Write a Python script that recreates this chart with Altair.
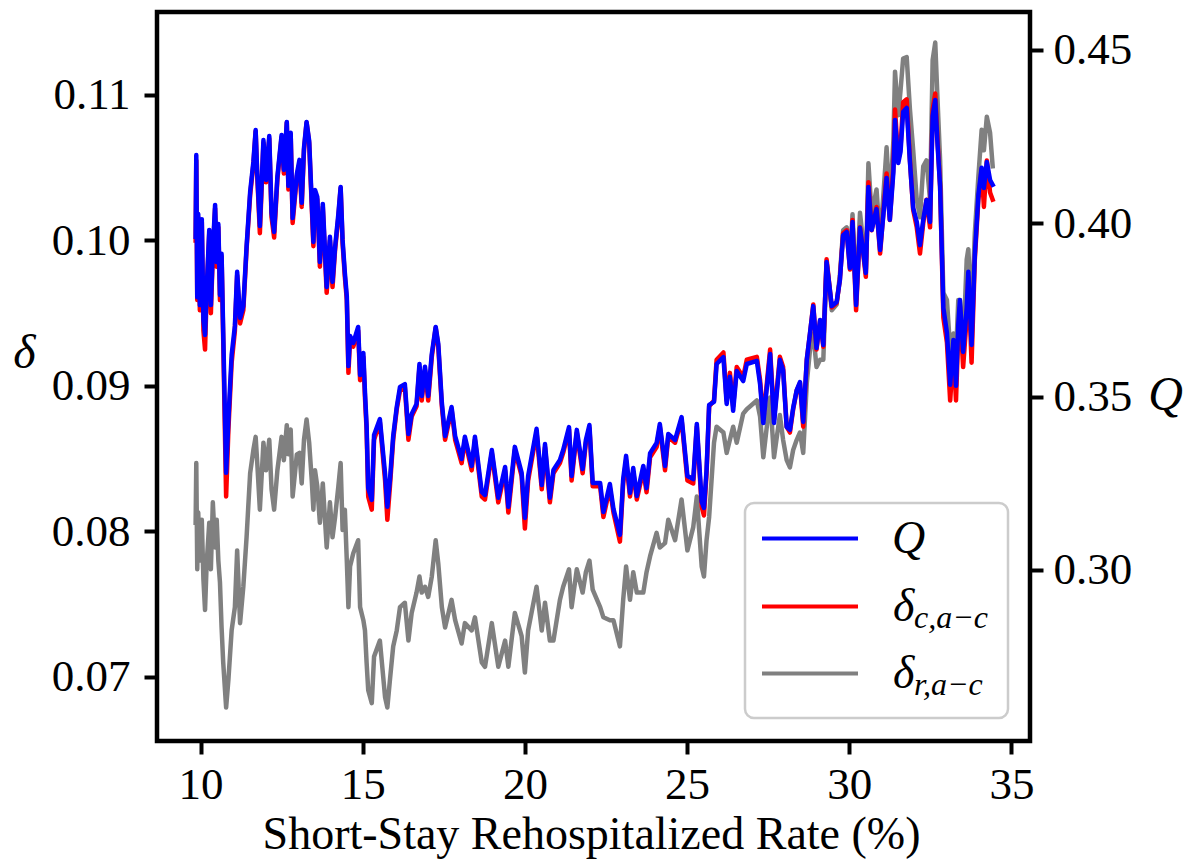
import altair as alt
import pandas as pd

# Short-stay rehospitalized rate (%) -- x positions
rate = [
    9.85, 9.87, 9.90, 9.93, 9.98, 10.04, 10.09, 10.14, 10.19, 10.27,
    10.32, 10.38, 10.45, 10.50, 10.55, 10.60, 10.65, 10.70, 10.79, 10.86,
    10.96, 11.06, 11.13, 11.22, 11.32, 11.42, 11.53, 11.63, 11.70, 11.75,
    11.83, 11.94, 12.02, 12.12, 12.19, 12.27, 12.37, 12.50, 12.57, 12.66,
    12.71, 12.78, 12.84, 12.97, 13.05, 13.12, 13.19, 13.27, 13.35, 13.43,
    13.48, 13.53, 13.60, 13.68, 13.77, 13.89, 13.99, 14.07, 14.15, 14.25,
    14.32, 14.38, 14.45, 14.51, 14.56, 14.61, 14.71, 14.86, 14.92, 15.02,
    15.07, 15.12, 15.17, 15.28, 15.35, 15.53, 15.69, 15.76, 15.84, 15.94,
    16.05, 16.15, 16.30, 16.41, 16.51, 16.66, 16.75, 16.82, 16.92, 17.02,
    17.13, 17.25, 17.33, 17.44, 17.54, 17.74, 17.85, 18.05, 18.15, 18.36,
    18.46, 18.67, 18.77, 18.98, 19.18, 19.39, 19.49, 19.69, 19.90, 20.00,
    20.10, 20.36, 20.52, 20.62, 20.77, 20.88, 21.08, 21.18, 21.36, 21.44,
    21.60, 21.78, 21.88, 21.99, 22.09, 22.32, 22.42, 22.62, 22.73, 22.93,
    23.03, 23.12, 23.24, 23.34, 23.45, 23.65, 23.75, 23.86, 24.06, 24.16,
    24.32, 24.42, 24.63, 24.83, 25.01, 25.19, 25.30, 25.45, 25.52, 25.60,
    25.68, 25.83, 25.91, 26.12, 26.22, 26.32, 26.42, 26.53, 26.73, 26.84,
    27.15, 27.25, 27.35, 27.56, 27.68, 27.86, 27.96, 28.07, 28.17, 28.27,
    28.38, 28.48, 28.58, 28.69, 28.79, 28.89, 28.99, 29.10, 29.20, 29.30,
    29.46, 29.61, 29.71, 29.81, 29.92, 30.02, 30.10, 30.21, 30.33, 30.43,
    30.51, 30.59, 30.69, 30.84, 30.95, 31.05, 31.15, 31.25, 31.36, 31.41,
    31.51, 31.58, 31.66, 31.77, 31.87, 31.97, 32.08, 32.18, 32.28, 32.38,
    32.49, 32.57, 32.65, 32.72, 32.80, 32.90, 33.01, 33.11, 33.21, 33.29,
    33.36, 33.41, 33.51, 33.62, 33.67, 33.77, 33.87, 33.98, 34.08, 34.15,
    34.24, 34.34, 34.42,
]

# delta_{c,a-c} (red, left axis)
delta_c = [
    0.1000, 0.1055, 0.0959, 0.1016, 0.0952, 0.1013, 0.0938, 0.0925, 0.0964, 0.1005,
    0.0950, 0.0991, 0.1022, 0.0982, 0.1009, 0.0959, 0.0989, 0.0932, 0.0824, 0.0870,
    0.0916, 0.0938, 0.0976, 0.0943, 0.0952, 0.0994, 0.1031, 0.1052, 0.1075, 0.1044,
    0.1005, 0.1067, 0.1040, 0.1070, 0.1016, 0.1002, 0.1042, 0.1071, 0.1046, 0.1081,
    0.1035, 0.1073, 0.1012, 0.1044, 0.1053, 0.1023, 0.1062, 0.1081, 0.1067, 0.1023,
    0.0996, 0.1033, 0.1028, 0.0982, 0.1023, 0.0964, 0.1000, 0.0968, 0.0994, 0.1016,
    0.1036, 0.0998, 0.0975, 0.0959, 0.0909, 0.0932, 0.0927, 0.0938, 0.0904, 0.0920,
    0.0892, 0.0870, 0.0824, 0.0815, 0.0863, 0.0875, 0.0835, 0.0808, 0.0831, 0.0863,
    0.0884, 0.0897, 0.0899, 0.0863, 0.0879, 0.0886, 0.0913, 0.0890, 0.0911, 0.0890,
    0.0920, 0.0940, 0.0927, 0.0886, 0.0863, 0.0884, 0.0863, 0.0847, 0.0863, 0.0842,
    0.0863, 0.0824, 0.0822, 0.0854, 0.0820, 0.0842, 0.0813, 0.0856, 0.0838, 0.0802,
    0.0835, 0.0868, 0.0829, 0.0858, 0.0820, 0.0840, 0.0847, 0.0854, 0.0870, 0.0835,
    0.0868, 0.0840, 0.0861, 0.0871, 0.0831, 0.0831, 0.0810, 0.0830, 0.0813, 0.0793,
    0.0833, 0.0849, 0.0824, 0.0841, 0.0822, 0.0842, 0.0827, 0.0851, 0.0858, 0.0872,
    0.0842, 0.0865, 0.0861, 0.0877, 0.0835, 0.0833, 0.0872, 0.0817, 0.0811, 0.0840,
    0.0886, 0.0890, 0.0918, 0.0923, 0.0890, 0.0909, 0.0886, 0.0913, 0.0906, 0.0918,
    0.0920, 0.0904, 0.0877, 0.0925, 0.0877, 0.0920, 0.0913, 0.0872, 0.0868, 0.0884,
    0.0897, 0.0902, 0.0872, 0.0918, 0.0936, 0.0956, 0.0925, 0.0945, 0.0927, 0.0987,
    0.0954, 0.0957, 0.0973, 0.1005, 0.1007, 0.0980, 0.1014, 0.0952, 0.1009, 0.0991,
    0.0975, 0.1040, 0.1007, 0.1023, 0.0991, 0.1019, 0.1046, 0.1014, 0.1051, 0.1090,
    0.1055, 0.1064, 0.1095, 0.1097, 0.1055, 0.1021, 0.1009, 0.0991, 0.1012, 0.1028,
    0.1009, 0.1090, 0.1101, 0.1069, 0.1037, 0.0947, 0.0930, 0.0890, 0.0925, 0.0890,
    0.0936, 0.0954, 0.0913, 0.0947, 0.0975, 0.0916, 0.0987, 0.1028, 0.1049, 0.1023,
    0.1055, 0.1033, 0.1028,
]

# delta_{r,a-c} (grey, left axis)
delta_r = [
    0.0806, 0.0847, 0.0774, 0.0813, 0.0780, 0.0808, 0.0767, 0.0746, 0.0778, 0.0806,
    0.0774, 0.0820, 0.0789, 0.0808, 0.0780, 0.0765, 0.0734, 0.0710, 0.0679, 0.0698,
    0.0732, 0.0748, 0.0787, 0.0737, 0.0762, 0.0796, 0.0840, 0.0856, 0.0865, 0.0847,
    0.0815, 0.0861, 0.0842, 0.0863, 0.0829, 0.0815, 0.0842, 0.0865, 0.0849, 0.0873,
    0.0853, 0.0870, 0.0824, 0.0853, 0.0854, 0.0833, 0.0863, 0.0877, 0.0861, 0.0835,
    0.0815, 0.0842, 0.0831, 0.0806, 0.0833, 0.0789, 0.0820, 0.0796, 0.0810, 0.0831,
    0.0847, 0.0801, 0.0815, 0.0780, 0.0748, 0.0776, 0.0785, 0.0794, 0.0748, 0.0739,
    0.0732, 0.0710, 0.0691, 0.0682, 0.0714, 0.0725, 0.0686, 0.0679, 0.0698, 0.0721,
    0.0732, 0.0748, 0.0751, 0.0725, 0.0744, 0.0758, 0.0769, 0.0758, 0.0762, 0.0755,
    0.0769, 0.0794, 0.0778, 0.0748, 0.0734, 0.0753, 0.0739, 0.0723, 0.0737, 0.0732,
    0.0741, 0.0710, 0.0707, 0.0737, 0.0707, 0.0725, 0.0707, 0.0744, 0.0728, 0.0703,
    0.0732, 0.0762, 0.0732, 0.0751, 0.0725, 0.0725, 0.0753, 0.0762, 0.0774, 0.0748,
    0.0774, 0.0758, 0.0772, 0.0780, 0.0760, 0.0748, 0.0741, 0.0739, 0.0739, 0.0721,
    0.0753, 0.0776, 0.0753, 0.0772, 0.0758, 0.0758, 0.0772, 0.0783, 0.0799, 0.0789,
    0.0792, 0.0808, 0.0794, 0.0822, 0.0787, 0.0803, 0.0824, 0.0776, 0.0769, 0.0794,
    0.0810, 0.0861, 0.0872, 0.0868, 0.0854, 0.0863, 0.0872, 0.0861, 0.0881, 0.0884,
    0.0890, 0.0879, 0.0851, 0.0892, 0.0851, 0.0880, 0.0863, 0.0849, 0.0844, 0.0856,
    0.0863, 0.0868, 0.0854, 0.0902, 0.0925, 0.0936, 0.0913, 0.0918, 0.0918, 0.0985,
    0.0952, 0.0956, 0.0976, 0.1007, 0.1009, 0.0985, 0.1018, 0.0959, 0.1019, 0.0998,
    0.0980, 0.1053, 0.1018, 0.1035, 0.1000, 0.1031, 0.1064, 0.1024, 0.1069, 0.1116,
    0.1086, 0.1103, 0.1125, 0.1126, 0.1090, 0.1062, 0.1028, 0.1016, 0.1051, 0.1055,
    0.1028, 0.1124, 0.1136, 0.1097, 0.1055, 0.0964, 0.0959, 0.0925, 0.0936, 0.0921,
    0.0959, 0.0959, 0.0925, 0.0987, 0.0994, 0.0947, 0.1005, 0.1044, 0.1076, 0.1062,
    0.1085, 0.1074, 0.1051,
]

# Q (blue, right axis)
q_vals = [
    0.3961, 0.4197, 0.3787, 0.4027, 0.3764, 0.4012, 0.3721, 0.3678, 0.3808, 0.3981,
    0.3764, 0.3923, 0.4053, 0.3888, 0.3998, 0.3793, 0.3912, 0.3686, 0.3280, 0.3433,
    0.3620, 0.3704, 0.3860, 0.3727, 0.3761, 0.3932, 0.4090, 0.4177, 0.4269, 0.4142,
    0.3992, 0.4240, 0.4125, 0.4252, 0.4030, 0.3975, 0.4134, 0.4255, 0.4154, 0.4292,
    0.4108, 0.4261, 0.4015, 0.4142, 0.4183, 0.4059, 0.4217, 0.4292, 0.4238, 0.4059,
    0.3946, 0.4096, 0.4076, 0.3888, 0.4056, 0.3816, 0.3961, 0.3831, 0.3932, 0.4027,
    0.4105, 0.3952, 0.3857, 0.3790, 0.3588, 0.3675, 0.3655, 0.3701, 0.3562, 0.3626,
    0.3513, 0.3418, 0.3236, 0.3202, 0.3389, 0.3435, 0.3277, 0.3182, 0.3259, 0.3386,
    0.3470, 0.3528, 0.3536, 0.3392, 0.3450, 0.3479, 0.3594, 0.3502, 0.3586, 0.3502,
    0.3623, 0.3701, 0.3652, 0.3482, 0.3386, 0.3470, 0.3386, 0.3320, 0.3384, 0.3300,
    0.3384, 0.3225, 0.3216, 0.3346, 0.3208, 0.3297, 0.3182, 0.3355, 0.3280, 0.3150,
    0.3271, 0.3407, 0.3245, 0.3363, 0.3208, 0.3288, 0.3317, 0.3346, 0.3412, 0.3271,
    0.3404, 0.3291, 0.3375, 0.3418, 0.3251, 0.3251, 0.3167, 0.3248, 0.3176, 0.3101,
    0.3262, 0.3329, 0.3222, 0.3294, 0.3213, 0.3300, 0.3236, 0.3337, 0.3366, 0.3421,
    0.3300, 0.3392, 0.3375, 0.3441, 0.3271, 0.3262, 0.3421, 0.3196, 0.3179, 0.3288,
    0.3476, 0.3485, 0.3594, 0.3614, 0.3479, 0.3557, 0.3459, 0.3574, 0.3545, 0.3594,
    0.3603, 0.3536, 0.3424, 0.3623, 0.3424, 0.3606, 0.3577, 0.3412, 0.3404, 0.3467,
    0.3519, 0.3542, 0.3427, 0.3606, 0.3684, 0.3761, 0.3640, 0.3721, 0.3649, 0.3888,
    0.3761, 0.3773, 0.3836, 0.3966, 0.3975, 0.3871, 0.4004, 0.3764, 0.3987, 0.3917,
    0.3857, 0.4105, 0.3981, 0.4041, 0.3923, 0.4024, 0.4131, 0.4010, 0.4148, 0.4298,
    0.4174, 0.4206, 0.4321, 0.4333, 0.4177, 0.4044, 0.4004, 0.3937, 0.4010, 0.4067,
    0.4004, 0.4310, 0.4356, 0.4229, 0.4105, 0.3756, 0.3684, 0.3534, 0.3663, 0.3531,
    0.3707, 0.3779, 0.3629, 0.3756, 0.3860, 0.3649, 0.3909, 0.4082, 0.4160, 0.4102,
    0.4177, 0.4125, 0.4111,
]

x_ticks = [10, 15, 20, 25, 30, 35]
delta_ticks = [0.07, 0.08, 0.09, 0.10, 0.11]
q_ticks = [0.30, 0.35, 0.40, 0.45]

df = pd.DataFrame({"rate": rate, "dc": delta_c, "dr": delta_r, "q": q_vals})
one = pd.DataFrame({"k": [0]})

FONT = "Liberation Serif, Times New Roman, DejaVu Serif, serif"
W, H = 873, 729

x_enc = alt.X(
    "rate:Q",
    scale=alt.Scale(domain=[8.659, 35.571], nice=False, zero=False),
    axis=alt.Axis(
        values=x_ticks, format="d", labelPadding=8,
        title="Short-Stay Rehospitalized Rate (%)",
        titleX=434, titleY=107, titleAlign="center", titleBaseline="alphabetic",
    ),
)

delta_scale = alt.Scale(domain=[0.0656, 0.1157], nice=False, zero=False)
delta_axis = alt.Axis(
    orient="left", values=delta_ticks, format=".2f", labelPadding=14,
    title="δ", titleAngle=0, titleX=-133, titleY=341, titleAlign="center",
    titleBaseline="middle", titleFontStyle="italic", titleFontSize=48,
)
q_scale = alt.Scale(domain=[0.25064, 0.46096], nice=False, zero=False)
q_axis = alt.Axis(
    orient="right", values=q_ticks, format=".2f", labelPadding=10,
    title="Q", titleAngle=0, titleX=135, titleY=383, titleAlign="center",
    titleBaseline="middle", titleFontStyle="italic", titleFontSize=48,
)

line_kw = dict(strokeWidth=4.5, strokeJoin="round", strokeCap="square")

grey = alt.Chart(df).mark_line(color="#808080", **line_kw).encode(
    x=x_enc, y=alt.Y("dr:Q", scale=delta_scale, axis=delta_axis))
red = alt.Chart(df).mark_line(color="#ff0000", **line_kw).encode(
    x=x_enc, y=alt.Y("dc:Q", scale=delta_scale, axis=delta_axis))
blue = alt.Chart(df).mark_line(color="#0000ff", **line_kw).encode(
    x=x_enc, y=alt.Y("q:Q", scale=q_scale, axis=q_axis))

delta_layer = alt.layer(grey, red)

# legend (drawn by hand so that the subscripts can be shown)
box = alt.Chart(one).mark_rect(
    fill="white", fillOpacity=0.8, stroke="#cccccc", strokeWidth=2.5, cornerRadius=9
).encode(x=alt.value(588), x2=alt.value(851), y=alt.value(491), y2=alt.value(706))

def sample(color, y):
    return alt.Chart(one).mark_rule(color=color, strokeWidth=4).encode(
        x=alt.value(605), x2=alt.value(701), y=alt.value(y))

def label(txt, x, y, size):
    return alt.Chart(one).mark_text(
        text=txt, font=FONT, fontSize=size, fontStyle="italic", color="black",
        align="left", baseline="alphabetic",
    ).encode(x=alt.value(x), y=alt.value(y))

legend = [
    box,
    sample("#0000ff", 526.5), sample("#ff0000", 594.5), sample("#808080", 661.5),
    label("Q", 735, 541, 46),
    label("δ", 736, 608.5, 46), label("c,a−c", 757, 616, 32),
    label("δ", 736, 675.5, 46), label("r,a−c", 757, 683, 32),
]

chart = alt.layer(delta_layer, blue, *legend).resolve_scale(
    y="independent"
).properties(
    width=W, height=H,
    autosize=alt.AutoSizeParams(type="none"),
    padding={"left": 157, "top": 12, "right": 169, "bottom": 120},
).configure_view(
    stroke="black", strokeWidth=4.5
).configure_axis(
    domain=False, grid=False, tickColor="black", tickWidth=4, tickSize=13,
    labelFont=FONT, labelFontSize=45, labelColor="black",
    titleFont=FONT, titleFontSize=46, titleColor="black", titleFontWeight="normal",
)

chart.save("out.html", embed_options={"renderer": "svg", "actions": False})
